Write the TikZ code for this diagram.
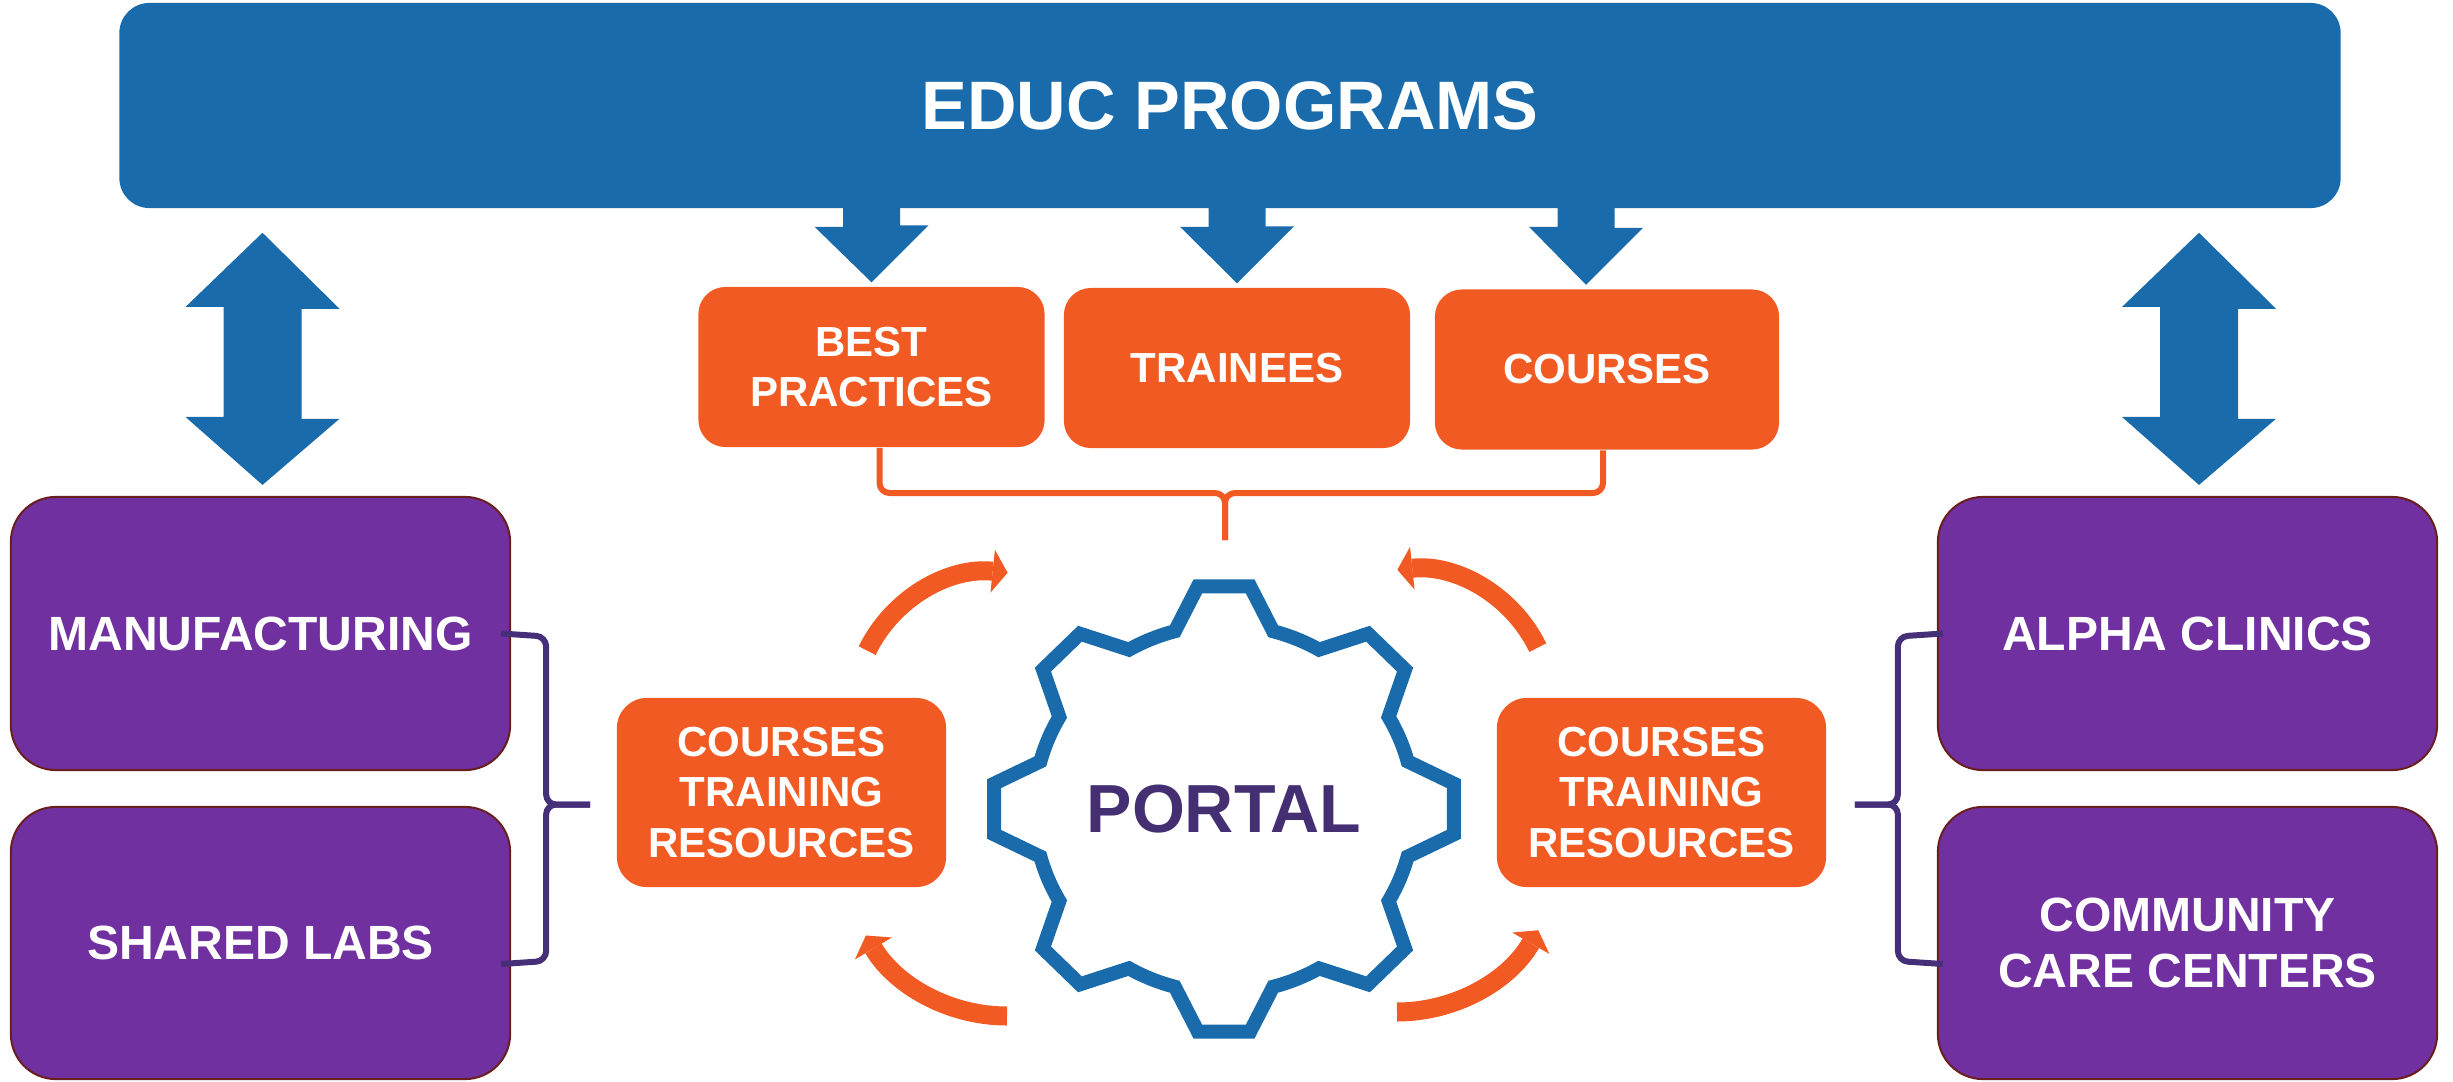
\documentclass[tikz,border=0pt]{standalone}
\usepackage{fontspec}
\setmainfont{Liberation Sans}
\usetikzlibrary{arrows.meta,calc}

\definecolor{eduBlue}{HTML}{1A6BAB}
\definecolor{eduOrange}{HTML}{F15A22}
\definecolor{eduPurple}{HTML}{7030A0}
\definecolor{eduRim}{HTML}{6A1F1F}
\definecolor{eduInk}{HTML}{432F72}
\definecolor{eduClamp}{HTML}{452F78}

\tikzset{
  prog/.style={fill=eduBlue, text=white, rounded corners=0.3cm, inner sep=0pt,
    minimum width=22.2cm, minimum height=2.05cm, font=\fontsize{19.5}{23}\selectfont\bfseries},
  task/.style={fill=eduOrange, text=white, rounded corners=0.27cm, inner sep=0pt, align=center,
    minimum width=3.46cm, minimum height=1.6cm, font=\fontsize{11.95}{14.4}\selectfont\bfseries},
  res/.style={task, rounded corners=0.3cm, minimum width=3.29cm, minimum height=1.89cm},
  site/.style={fill=eduPurple, draw=eduRim, line width=0.02cm, text=white, rounded corners=0.45cm,
    inner sep=0pt, align=center, minimum width=4.99cm, minimum height=2.72cm,
    font=\fontsize{13.66}{15.9}\selectfont\bfseries},
  gear/.style={draw=eduBlue, line width=0.14cm, line join=miter},
  tie/.style={draw=eduOrange, line width=0.06cm, rounded corners=0.1cm},
  clamp/.style={draw=eduClamp, line width=0.06cm, rounded corners=0.1cm},
  cycarrow/.style={draw=eduOrange, line width=0.19cm,
    -{Triangle[length=0.15cm, width=0.43cm, line width=0pt]}}
}

\begin{document}
\begin{tikzpicture}[x=0.01cm, y=-0.01cm]
	\useasboundingbox (0,0) rectangle (2453,1081);

	\node[prog] (educ) at (1230, 105.5) {EDUC PROGRAMS};

	\node[task] (best) at (871.5, 367) {BEST\\PRACTICES};
	\node[task] (trainees) at (1237, 368) {TRAINEES};
	\node[task, minimum width=3.44cm] (courses) at (1607, 369.5) {COURSES};

	\node[res] (crsL) at (781.5, 792.5) {COURSES\\TRAINING\\RESOURCES};
	\node[res] (crsR) at (1661.5, 792.5) {COURSES\\TRAINING\\RESOURCES};

	\node[site, minimum height=2.73cm] (mfg) at (260.5, 633.5) {MANUFACTURING};
	\node[site] (labs) at (260.5, 943) {SHARED LABS};
	\node[site, minimum height=2.73cm] (alpha) at (2187.5, 633.5) {ALPHA CLINICS};
	\node[site] (ccc) at (2187.5, 943) {COMMUNITY\\CARE CENTERS};

	\node[text=eduInk, font=\fontsize{19.35}{23}\selectfont\bfseries] (portal) at (1224, 809) {PORTAL};

	% gear round the portal
	\begin{scope}[shift={(portal.center)}, xscale=1.033]
		\draw[gear] (-15:184) \foreach \a in {0,45,...,315} {
			-- (\a-6.5:224) -- (\a+6.5:224) -- (\a+15:184)
			arc[start angle=\a+15, end angle=\a+30, radius=184]} -- cycle;
	\end{scope}

	% arrows from the programme bar
	\foreach \tgt/\dx in {best/0, trainees/0, courses/-21}
		\fill[eduBlue] ($(educ.south -| \tgt.north)+(\dx-28.5,-8)$) -- ++(0,26) -- ++(-28.5,0)
			-- ($(\tgt.north)+(\dx,-4)$) -- ++(57,-57) -- ++(-28.5,0) -- ++(0,-26) -- cycle;

	\fill[eduBlue] ($(educ.south -| mfg.north)+(2,24)$) -- ++(77,76) -- ++(-38,0) -- ++(0,110) -- ++(38,0)
		-- ($(mfg.north)+(2,-11)$) -- ++(-77,-68) -- ++(38,0) -- ++(0,-110) -- ++(-38,0) -- cycle;
	\fill[eduBlue] ($(educ.south -| alpha.north)+(11.5,24)$) -- ++(77,76) -- ++(-38,0) -- ++(0,110) -- ++(38,0)
		-- ($(alpha.north)+(11.5,-11)$) -- ++(-77,-68) -- ++(38,0) -- ++(0,-110) -- ++(-38,0) -- cycle;

	% bracket under the three orange boxes
	\coordinate (knot) at (1225, 493);
	\coordinate (hub) at (1225, 540);
	\draw[tie] ([xshift=0.08cm]best.south) |- (knot) -- (hub);
	\draw[tie] ([xshift=-0.04cm]courses.south) |- (knot) -- (hub);

	% side brackets
	\draw[clamp] ([xshift=-0.1cm]mfg.east) -- ++(45,3) |- ($(crsL.west)+(-26,12)$);
	\draw[clamp] ([shift={(-0.1cm,-0.21cm)}]labs.east) -- ++(45,-3) |- ($(crsL.west)+(-26,12)$);
	\draw[clamp] ([xshift=0.06cm]alpha.west) -- ++(-45,3) |- ($(crsR.east)+(28,12)$);
	\draw[clamp] ([shift={(0.06cm,-0.21cm)}]ccc.west) -- ++(-45,-3) |- ($(crsR.east)+(28,12)$);

	% cycle arrows round the gear
	\draw[cycarrow] (993,712) ++(-154:140) arc[start angle=-154, end angle=-84, radius=140];
	\draw[cycarrow] (1412,709) ++(-26:140) arc[start angle=-26, end angle=-96, radius=140];
	\draw[cycarrow] (1007,852) ++(90:164) arc[start angle=90, end angle=149.4, radius=164];
	\draw[cycarrow] (1397,849) ++(90:163) arc[start angle=90, end angle=29.9, radius=163];
\end{tikzpicture}
\end{document}
